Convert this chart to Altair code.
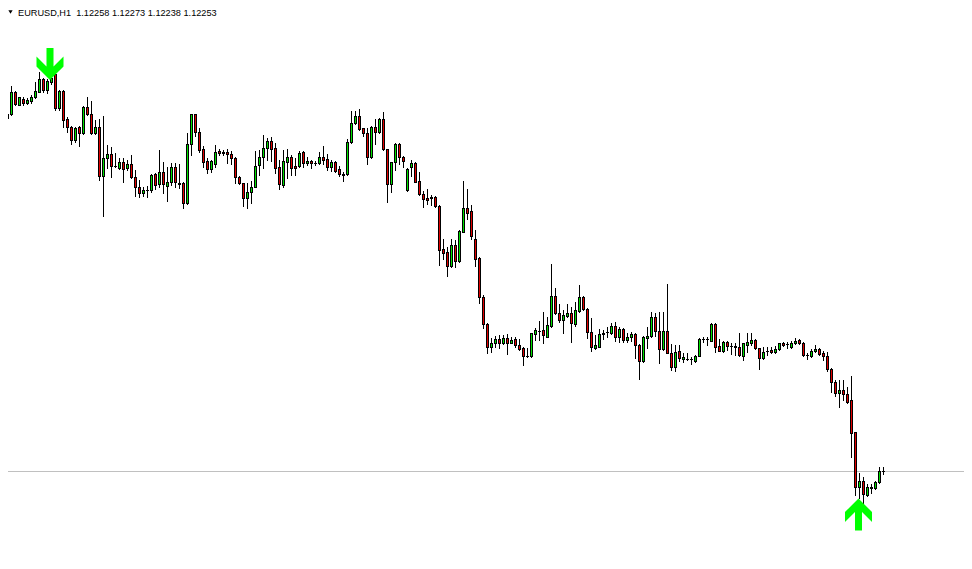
import altair as alt
import pandas as pd

# ---- data (EURUSD H1) ----
opens = [
 1.1584, 1.1578, 1.1582, 1.1604, 1.1591, 1.1597, 1.1593, 1.1595, 1.1599, 1.1604,
 1.1617, 1.1606, 1.1614, 1.1622, 1.1588, 1.1605, 1.1577, 1.1569, 1.1556, 1.1569,
 1.1563, 1.1589, 1.1582, 1.1563, 1.1569, 1.1520, 1.1538, 1.1542, 1.1530, 1.1528,
 1.1534, 1.1528, 1.1532, 1.1519, 1.1509, 1.1503, 1.1506, 1.1506, 1.1522, 1.1512,
 1.1524, 1.1510, 1.1514, 1.1529, 1.1513, 1.1513, 1.1493, 1.1552, 1.1582, 1.1564,
 1.1547, 1.1535, 1.1527, 1.1532, 1.1545, 1.1543, 1.1544, 1.1542, 1.1538, 1.1519,
 1.1513, 1.1498, 1.1504, 1.1509, 1.1531, 1.1539, 1.1548, 1.1555, 1.1548, 1.1529,
 1.1511, 1.1534, 1.1539, 1.1530, 1.1530, 1.1544, 1.1533, 1.1535, 1.1533, 1.1533,
 1.1539, 1.1537, 1.1529, 1.1534, 1.1527, 1.1522, 1.1522, 1.1554, 1.1573, 1.1580,
 1.1568, 1.1563, 1.1539, 1.1569, 1.1564, 1.1577, 1.1547, 1.1512, 1.1534, 1.1552,
 1.1539, 1.1506, 1.1529, 1.1533, 1.1515, 1.1502, 1.1498, 1.1498, 1.1499, 1.1490,
 1.1447, 1.1444, 1.1430, 1.1451, 1.1435, 1.1464, 1.1488, 1.1485, 1.1457, 1.1438,
 1.1399, 1.1372, 1.1349, 1.1353, 1.1357, 1.1353, 1.1358, 1.1353, 1.1357, 1.1351,
 1.1348, 1.1340, 1.1340, 1.1362, 1.1365, 1.1366, 1.1359, 1.1370, 1.1400, 1.1383,
 1.1376, 1.1380, 1.1383, 1.1372, 1.1385, 1.1399, 1.1387, 1.1364, 1.1348, 1.1349,
 1.1362, 1.1364, 1.1363, 1.1370, 1.1359, 1.1367, 1.1356, 1.1359, 1.1362, 1.1351,
 1.1335, 1.1358, 1.1360, 1.1379, 1.1365, 1.1347, 1.1365, 1.1343, 1.1329, 1.1345,
 1.1337, 1.1337, 1.1337, 1.1335, 1.1340, 1.1357, 1.1357, 1.1355, 1.1372, 1.1350,
 1.1345, 1.1354, 1.1350, 1.1350, 1.1349, 1.1340, 1.1351, 1.1353, 1.1356, 1.1348,
 1.1338, 1.1345, 1.1346, 1.1344, 1.1347, 1.1353, 1.1352, 1.1349, 1.1353, 1.1356,
 1.1353, 1.1341, 1.1340, 1.1345, 1.1347, 1.1343, 1.1340, 1.1327, 1.1314, 1.1303,
 1.1306, 1.1302, 1.1296, 1.1264, 1.1209, 1.1215, 1.1201, 1.1208, 1.1208, 1.1214, 1.1225,
]
highs = [
 1.1586, 1.1582, 1.1610, 1.1605, 1.1599, 1.1599, 1.1598, 1.1601, 1.1614, 1.1624,
 1.1618, 1.1617, 1.1624, 1.1624, 1.1606, 1.1606, 1.1579, 1.1570, 1.1569, 1.1570,
 1.1590, 1.1599, 1.1595, 1.1576, 1.1577, 1.1580, 1.1551, 1.1549, 1.1543, 1.1538,
 1.1538, 1.1536, 1.1541, 1.1526, 1.1516, 1.1509, 1.1510, 1.1522, 1.1523, 1.1546,
 1.1534, 1.1529, 1.1533, 1.1533, 1.1532, 1.1514, 1.1563, 1.1582, 1.1582, 1.1568,
 1.1550, 1.1538, 1.1536, 1.1551, 1.1547, 1.1546, 1.1547, 1.1545, 1.1539, 1.1520,
 1.1513, 1.1513, 1.1515, 1.1545, 1.1546, 1.1561, 1.1558, 1.1559, 1.1553, 1.1536,
 1.1546, 1.1547, 1.1541, 1.1538, 1.1545, 1.1545, 1.1539, 1.1536, 1.1535, 1.1544,
 1.1550, 1.1542, 1.1536, 1.1535, 1.1530, 1.1524, 1.1557, 1.1585, 1.1585, 1.1587,
 1.1568, 1.1568, 1.1570, 1.1577, 1.1578, 1.1584, 1.1547, 1.1534, 1.1553, 1.1553,
 1.1540, 1.1528, 1.1536, 1.1534, 1.1524, 1.1505, 1.1507, 1.1501, 1.1500, 1.1491,
 1.1457, 1.1449, 1.1457, 1.1456, 1.1466, 1.1515, 1.1507, 1.1491, 1.1466, 1.1439,
 1.1401, 1.1373, 1.1358, 1.1360, 1.1361, 1.1361, 1.1362, 1.1359, 1.1359, 1.1357,
 1.1349, 1.1348, 1.1363, 1.1368, 1.1375, 1.1384, 1.1379, 1.1432, 1.1408, 1.1392,
 1.1386, 1.1392, 1.1389, 1.1394, 1.1411, 1.1400, 1.1388, 1.1378, 1.1361, 1.1367,
 1.1366, 1.1369, 1.1373, 1.1374, 1.1369, 1.1368, 1.1363, 1.1364, 1.1363, 1.1352,
 1.1360, 1.1369, 1.1384, 1.1383, 1.1384, 1.1384, 1.1412, 1.1352, 1.1351, 1.1351,
 1.1343, 1.1343, 1.1339, 1.1341, 1.1358, 1.1359, 1.1359, 1.1373, 1.1373, 1.1357,
 1.1355, 1.1355, 1.1353, 1.1353, 1.1363, 1.1353, 1.1363, 1.1363, 1.1357, 1.1348,
 1.1349, 1.1349, 1.1349, 1.1350, 1.1353, 1.1354, 1.1354, 1.1355, 1.1358, 1.1357,
 1.1354, 1.1343, 1.1347, 1.1351, 1.1348, 1.1345, 1.1344, 1.1328, 1.1316, 1.1316,
 1.1316, 1.1309, 1.1320, 1.1264, 1.1223, 1.1219, 1.1212, 1.1212, 1.1215, 1.1229, 1.1229,
]
lows = [
 1.1571, 1.1568, 1.1581, 1.1591, 1.1591, 1.1591, 1.1592, 1.1593, 1.1598, 1.1604,
 1.1604, 1.1603, 1.1612, 1.1586, 1.1586, 1.1569, 1.1564, 1.1552, 1.1554, 1.1550,
 1.1562, 1.1581, 1.1562, 1.1562, 1.1516, 1.1480, 1.1528, 1.1519, 1.1529, 1.1527,
 1.1514, 1.1526, 1.1518, 1.1500, 1.1499, 1.1500, 1.1499, 1.1504, 1.1507, 1.1509,
 1.1503, 1.1495, 1.1511, 1.1509, 1.1508, 1.1488, 1.1492, 1.1541, 1.1560, 1.1544,
 1.1529, 1.1523, 1.1524, 1.1529, 1.1541, 1.1541, 1.1533, 1.1532, 1.1513, 1.1512,
 1.1490, 1.1488, 1.1493, 1.1509, 1.1521, 1.1528, 1.1536, 1.1535, 1.1523, 1.1507,
 1.1509, 1.1518, 1.1521, 1.1521, 1.1529, 1.1529, 1.1531, 1.1528, 1.1531, 1.1532,
 1.1532, 1.1526, 1.1525, 1.1524, 1.1520, 1.1515, 1.1521, 1.1553, 1.1572, 1.1566,
 1.1560, 1.1532, 1.1538, 1.1552, 1.1563, 1.1546, 1.1494, 1.1504, 1.1526, 1.1532,
 1.1529, 1.1505, 1.1520, 1.1514, 1.1501, 1.1489, 1.1492, 1.1491, 1.1489, 1.1431,
 1.1437, 1.1420, 1.1429, 1.1429, 1.1434, 1.1464, 1.1477, 1.1457, 1.1430, 1.1393,
 1.1368, 1.1343, 1.1344, 1.1349, 1.1348, 1.1352, 1.1342, 1.1353, 1.1349, 1.1346,
 1.1331, 1.1339, 1.1339, 1.1356, 1.1356, 1.1353, 1.1359, 1.1369, 1.1382, 1.1374,
 1.1363, 1.1379, 1.1354, 1.1370, 1.1384, 1.1386, 1.1358, 1.1345, 1.1347, 1.1349,
 1.1357, 1.1359, 1.1362, 1.1355, 1.1354, 1.1354, 1.1354, 1.1355, 1.1338, 1.1317,
 1.1334, 1.1348, 1.1359, 1.1360, 1.1333, 1.1346, 1.1343, 1.1326, 1.1325, 1.1335,
 1.1334, 1.1336, 1.1332, 1.1334, 1.1340, 1.1354, 1.1351, 1.1355, 1.1344, 1.1345,
 1.1344, 1.1346, 1.1342, 1.1341, 1.1340, 1.1336, 1.1344, 1.1351, 1.1347, 1.1327,
 1.1337, 1.1341, 1.1343, 1.1343, 1.1346, 1.1350, 1.1348, 1.1348, 1.1352, 1.1352,
 1.1340, 1.1337, 1.1339, 1.1344, 1.1341, 1.1336, 1.1325, 1.1304, 1.1300, 1.1289,
 1.1296, 1.1293, 1.1239, 1.1201, 1.1198, 1.1193, 1.1200, 1.1203, 1.1207, 1.1213, 1.1222,
]
closes = [
 1.1578, 1.1582, 1.1604, 1.1592, 1.1599, 1.1593, 1.1596, 1.1599, 1.1605, 1.1617,
 1.1606, 1.1615, 1.1618, 1.1588, 1.1605, 1.1576, 1.1569, 1.1556, 1.1568, 1.1563,
 1.1589, 1.1582, 1.1563, 1.1569, 1.1520, 1.1538, 1.1542, 1.1530, 1.1530, 1.1534,
 1.1527, 1.1532, 1.1519, 1.1509, 1.1503, 1.1506, 1.1506, 1.1521, 1.1511, 1.1524,
 1.1512, 1.1514, 1.1529, 1.1514, 1.1512, 1.1493, 1.1552, 1.1582, 1.1564, 1.1546,
 1.1534, 1.1527, 1.1535, 1.1544, 1.1543, 1.1544, 1.1542, 1.1538, 1.1519, 1.1513,
 1.1498, 1.1504, 1.1509, 1.1530, 1.1539, 1.1548, 1.1555, 1.1547, 1.1528, 1.1512,
 1.1535, 1.1539, 1.1528, 1.1528, 1.1543, 1.1533, 1.1535, 1.1533, 1.1533, 1.1539,
 1.1536, 1.1529, 1.1534, 1.1525, 1.1522, 1.1521, 1.1554, 1.1573, 1.1580, 1.1567,
 1.1563, 1.1539, 1.1569, 1.1564, 1.1577, 1.1547, 1.1512, 1.1534, 1.1552, 1.1539,
 1.1535, 1.1527, 1.1533, 1.1514, 1.1502, 1.1497, 1.1496, 1.1499, 1.1490, 1.1446,
 1.1443, 1.1430, 1.1451, 1.1435, 1.1465, 1.1488, 1.1483, 1.1460, 1.1437, 1.1399,
 1.1372, 1.1349, 1.1353, 1.1357, 1.1353, 1.1358, 1.1353, 1.1356, 1.1351, 1.1347,
 1.1340, 1.1340, 1.1363, 1.1366, 1.1365, 1.1361, 1.1371, 1.1400, 1.1383, 1.1376,
 1.1381, 1.1383, 1.1373, 1.1386, 1.1399, 1.1387, 1.1364, 1.1349, 1.1351, 1.1362,
 1.1363, 1.1364, 1.1370, 1.1359, 1.1367, 1.1356, 1.1359, 1.1362, 1.1351, 1.1335,
 1.1359, 1.1360, 1.1379, 1.1365, 1.1347, 1.1365, 1.1343, 1.1329, 1.1344, 1.1338,
 1.1339, 1.1337, 1.1337, 1.1340, 1.1357, 1.1357, 1.1357, 1.1372, 1.1349, 1.1345,
 1.1354, 1.1350, 1.1350, 1.1349, 1.1341, 1.1353, 1.1354, 1.1356, 1.1348, 1.1338,
 1.1344, 1.1345, 1.1344, 1.1347, 1.1353, 1.1351, 1.1352, 1.1353, 1.1355, 1.1353,
 1.1341, 1.1341, 1.1345, 1.1347, 1.1342, 1.1340, 1.1327, 1.1314, 1.1303, 1.1306,
 1.1302, 1.1294, 1.1263, 1.1209, 1.1215, 1.1202, 1.1209, 1.1209, 1.1214, 1.1225, 1.1225,
]

# signal arrows: (bar position, price level, direction)
arrow_pos = [11.625, 213.75]
arrow_price = [1.16325, 1.1182]
arrow_dir = ["down", "up"]

header_text = "EURUSD,H1\u00a0\u00a01.12258 1.12273 1.12238 1.12253"

# ---- build tables ----
n = len(closes)
bars = pd.DataFrame({
    "bar": list(range(n)),
    "open": opens, "high": highs, "low": lows, "close": closes,
})
bars["top"] = bars[["open", "close"]].max(axis=1)
bars["bot"] = bars[["open", "close"]].min(axis=1)
bars["dir"] = ["up" if c > o else ("down" if c < o else "flat") for o, c in zip(opens, closes)]
inner = bars[(bars["top"] - bars["bot"]) > 0.00015]

arrows = pd.DataFrame({"bar": arrow_pos, "price": arrow_price, "dir": arrow_dir})
bid = pd.DataFrame({"price": [closes[-1]]})

W, H = 956, 548
xscale = alt.Scale(domain=[1.125, 240.125], nice=False, zero=False, padding=0)
yscale = alt.Scale(domain=[1.11405, 1.16885], nice=False, zero=False, padding=0)

up_path = "M0,-1 L0.844,-0.156 L0.844,0.469 L0.219,-0.156 L0.219,1 L-0.219,1 L-0.219,-0.156 L-0.844,0.469 L-0.844,-0.156 Z"
down_path = "M0,1 L0.844,0.156 L0.844,-0.469 L0.219,0.156 L0.219,-1 L-0.219,-1 L-0.219,0.156 L-0.844,-0.469 L-0.844,0.156 Z"

X = alt.X("bar:Q", scale=xscale, axis=None)

bid_line = alt.Chart(bid).mark_rule(color="#C0C0C0", strokeWidth=1).encode(
    y=alt.Y("price:Q", scale=yscale, axis=None),
    x=alt.value(0), x2=alt.value(W),
)

wicks = alt.Chart(bars).mark_rule(color="black", strokeWidth=1, strokeCap="square", clip=True).encode(
    x=X,
    y=alt.Y("high:Q", scale=yscale, axis=None),
    y2="low:Q",
)

# black body (outline) then coloured inside
outer = alt.Chart(bars).mark_bar(size=3, color="black", yOffset=-0.5, y2Offset=0.5, clip=True).encode(
    x=X,
    y=alt.Y("top:Q", scale=yscale, axis=None),
    y2="bot:Q",
)
fill = alt.Chart(inner).mark_bar(size=1, yOffset=0.5, y2Offset=-0.5, clip=True).encode(
    x=X,
    y=alt.Y("top:Q", scale=yscale, axis=None),
    y2="bot:Q",
    color=alt.Color("dir:N", scale=alt.Scale(domain=["up", "down"],
                                             range=["#00E000", "#E00000"]), legend=None),
)

arrow_marks = alt.Chart(arrows).mark_point(filled=True, size=1024, opacity=1, strokeWidth=0).encode(
    x=alt.X("bar:Q", scale=xscale, axis=None),
    y=alt.Y("price:Q", scale=yscale, axis=None),
    shape=alt.Shape("dir:N", scale=alt.Scale(domain=["up", "down"], range=[up_path, down_path]), legend=None),
    color=alt.value("#00FF00"),
)

hdr = pd.DataFrame({"t": [header_text]})
header = alt.Chart(hdr).mark_text(align="left", baseline="top", font="Liberation Sans",
                                  fontSize=9.2, color="black").encode(
    x=alt.value(10), y=alt.value(1), text="t:N")
tri = alt.Chart(hdr).mark_point(shape="triangle-down", filled=True, size=18, color="black",
                               opacity=1).encode(x=alt.value(2.5), y=alt.value(4))

chart = alt.layer(bid_line, wicks, outer, fill, arrow_marks, header, tri).properties(
    width=W, height=H, autosize="none", padding=0, background="white"
).configure_view(strokeWidth=0)

chart.save("out.html", embed_options={"renderer": "svg", "actions": False})
